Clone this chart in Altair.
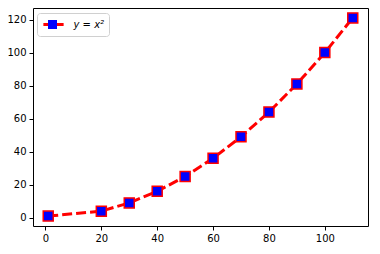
import altair as alt
import pandas as pd

x_vals = [1, 20, 30, 40, 50, 60, 70, 80, 90, 100, 110]
y_vals = [1, 4, 9, 16, 25, 36, 49, 64, 81, 100, 121]
series_label = "y = x²"
x_ticks = [0, 20, 40, 60, 80, 100]
y_ticks = [0, 20, 40, 60, 80, 100, 120]

df = pd.DataFrame({"x": x_vals, "y": y_vals, "s": [series_label] * len(x_vals)})

FONT = "DejaVu Sans"

xs = alt.Scale(domain=[-4.45, 115.45], nice=False, zero=False)
ys = alt.Scale(domain=[-5, 127], nice=False, zero=False)

axis_common = dict(
    title=None, grid=False, domain=False, ticks=True, tickSize=4,
    tickColor="black", tickWidth=1, labelFont=FONT, labelFontSize=10,
    labelColor="black", labelPadding=3,
)

xenc = alt.X("x:Q", scale=xs, axis=alt.Axis(values=x_ticks, **axis_common))
yenc = alt.Y("y:Q", scale=ys, axis=alt.Axis(values=y_ticks, **axis_common))

line = alt.Chart(df).mark_line(
    strokeWidth=3, strokeDash=[10, 4], strokeCap="butt"
).encode(
    x=xenc, y=yenc,
    color=alt.Color("s:N", scale=alt.Scale(range=["red"]), legend=alt.Legend(
        title=None, orient="none", legendX=4, legendY=5,
        symbolType="stroke", symbolSize=410, symbolStrokeWidth=3,
        symbolStrokeColor="red", clipHeight=14,
        labelFont=FONT, labelFontSize=10, labelFontStyle="italic",
        labelColor="black", labelOffset=8,
        fillColor="white", strokeColor="#d0d0d0", cornerRadius=3, padding=4.5,
    )),
)

points = alt.Chart(df).mark_point(
    filled=True, size=100, fill="blue", stroke="red", strokeWidth=1.5, opacity=1
).encode(
    x=xenc, y=yenc,
    shape=alt.Shape("s:N", scale=alt.Scale(range=["square"]), legend=alt.Legend(
        title=None, orient="none", legendX=9.5, legendY=5,
        symbolSize=81, symbolFillColor="blue", symbolStrokeColor="red",
        symbolStrokeWidth=1.5, symbolOpacity=1, clipHeight=14,
        labelExpr="''", labelFontSize=10, labelOffset=0,
        padding=4.5,
    )),
)

chart = alt.layer(line, points).properties(
    width=335, height=218,
    autosize=alt.AutoSizeParams(type="none"),
    padding={"left": 33, "top": 8, "right": 12, "bottom": 28},
).configure_view(stroke="black", strokeWidth=1)

chart.save("out.html", embed_options={"renderer": "svg", "actions": False})
